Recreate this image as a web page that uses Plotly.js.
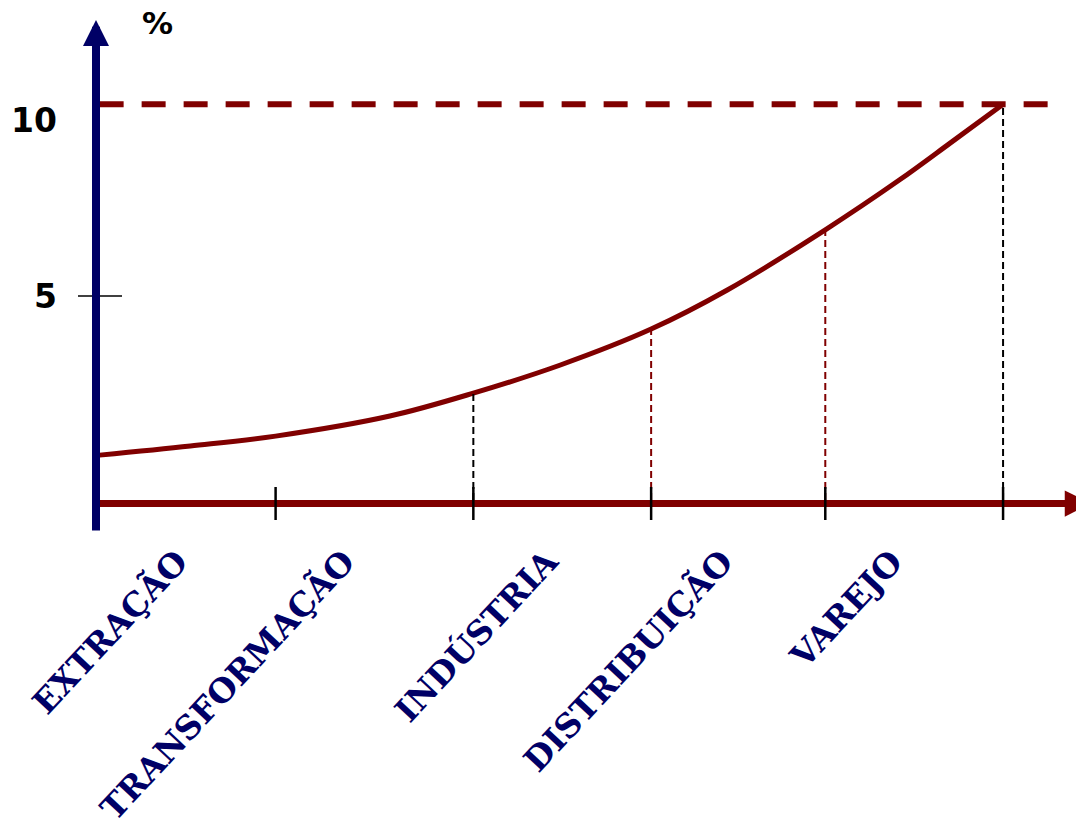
<!DOCTYPE html>
<html>
<head>
<meta charset="utf-8">
<script src="https://cdn.plot.ly/plotly-3.0.1.min.js"></script>
<style>html,body{margin:0;padding:0;background:#fff;}#chart{width:1076px;height:839px;}</style>
</head>
<body>
<div id="chart"></div>
<script>
// ---- data ----
const categories = ['EXTRAÇÃO', 'TRANSFORMAÇÃO', 'INDÚSTRIA', 'DISTRIBUIÇÃO', 'VAREJO'];
const stageBounds = [0.99, 2.08, 3.06, 4.02, 5.0];          // end of each stage on the x scale
const curveX = [0.02, 0.52, 0.99, 1.62, 2.08, 2.56, 3.06, 3.48, 4.02, 4.43, 4.71, 5.0];
const curveY = [0.48, 0.74, 1.02, 1.59, 2.24, 3.04, 4.06, 5.17, 6.88, 8.30, 9.35, 10.45]; // %
const yTickVals = [5, 10];
const yTickText = ['5', '10'];

// ---- styling / layout ----
const RED = '#800000', NAVY = '#000066';
const xRange = [0, 5.402];
const yRange = [-0.795, 12.84];
const labelPos = [0.45, 1.37, 2.49, 3.455, 4.39];

function valueAt(x) {
  const i = curveX.indexOf(x);
  return curveY[i];
}
const maxVal = Math.max(...curveY);

const shapes = [];
// top dashed reference line at the maximum
shapes.push({type: 'line', xref: 'x', yref: 'y', x0: 0.02, x1: 5.25, y0: maxVal, y1: maxVal,
  line: {color: RED, width: 6, dash: '24px,18px'}});
// drop lines from the curve to the axis
const dropColors = [null, '#000000', RED, RED, '#000000'];
stageBounds.forEach((b, i) => {
  if (i === 0) return;
  shapes.push({type: 'line', xref: 'x', yref: 'y', x0: b, x1: b, y0: yRange[0], y1: valueAt(b),
    line: {color: dropColors[i], width: 2, dash: '7px,4px'}});
});
// tick marks on the x axis at the stage boundaries
stageBounds.forEach(b => {
  shapes.push({type: 'line', xref: 'x', yref: 'paper', ysizemode: 'pixel', yanchor: 0,
    x0: b, x1: b, y0: -20, y1: 13, line: {color: '#000000', width: 2.5}});
});
// tick mark at 5 on the y axis
shapes.push({type: 'line', xref: 'paper', yref: 'y', xsizemode: 'pixel', xanchor: 0,
  x0: -18, x1: 26, y0: yTickVals[0], y1: yTickVals[0], line: {color: '#000000', width: 1.5}});

const annotations = [
  // x axis arrow head
  {x: 1, y: 0, xref: 'paper', yref: 'paper', xshift: 16, yshift: -3.5, ax: -45, ay: 0, text: '', showarrow: true,
   arrowhead: 2, arrowsize: 0.75, arrowwidth: 7, arrowcolor: RED, standoff: 0},
  // y axis arrow
  {x: 0, y: 1, xref: 'x', yref: 'paper', ax: 0, ay: 512, text: '', showarrow: true,
   arrowhead: 2, arrowsize: 0.65, arrowwidth: 8, arrowcolor: NAVY, standoff: 0},
  // % unit label
  {x: 0.34, y: 0.994, xref: 'x', yref: 'paper', yanchor: 'middle', xanchor: 'center', text: '%', showarrow: false,
   font: {family: 'DejaVu Sans', size: 31, color: '#000000', weight: 'bold'}}
];

const trace = {
  type: 'scatter', mode: 'lines', x: curveX, y: curveY,
  line: {color: RED, width: 5, shape: 'spline', smoothing: 1},
  hoverinfo: 'skip'
};

const layout = {
  width: 1076, height: 839,
  margin: {l: 96, r: 0, t: 20, b: 339},
  paper_bgcolor: '#ffffff', plot_bgcolor: '#ffffff',
  showlegend: false,
  xaxis: {
    range: xRange, showgrid: false, zeroline: false,
    showline: true, linecolor: RED, linewidth: 7,
    tickmode: 'array', tickvals: labelPos, ticktext: categories,
    tickangle: -47, ticks: '', ticklabelstandoff: 22,
    tickfont: {family: 'DejaVu Serif', size: 33, color: NAVY, weight: 'bold'}
  },
  yaxis: {
    range: yRange, showgrid: false, zeroline: false, showline: false,
    tickmode: 'array', tickvals: yTickVals, ticktext: yTickText,
    ticks: '', ticklabelstandoff: 38,
    tickfont: {family: 'DejaVu Sans', size: 33, color: '#000000', weight: 'bold'}
  },
  shapes: shapes,
  annotations: annotations
};

Plotly.newPlot('chart', [trace], layout, {staticPlot: true, displayModeBar: false});
</script>
</body>
</html>
